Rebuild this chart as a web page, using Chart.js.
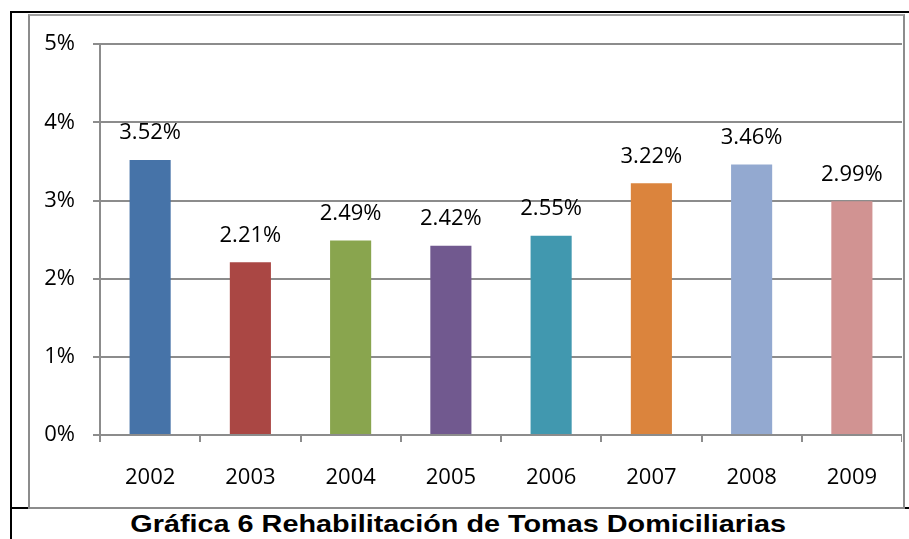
<!DOCTYPE html>
<html>
<head>
<meta charset="utf-8">
<script src="https://cdn.jsdelivr.net/npm/chart.js@4"></script>
<style>
  body { margin: 0; background: #fff; width: 909px; height: 539px; position: relative; overflow: hidden; }
  .line { position: absolute; background: #000; }
  #frame { position: absolute; left: 28px; top: 14px; width: 873px; height: 491px; border: 2px solid #8c8c8c; border-top-color: #a0a0a0; }
  #wrap { position: absolute; left: 30px; top: 13px; width: 872px; height: 493px; }
  #title { position: absolute; left: 12px; right: 0; top: 510px; text-align: center;
           font: bold 24px "Liberation Sans", Arial, sans-serif; color: #000;
           transform: scaleX(1.2); transform-origin: 460px 0; }
</style>
</head>
<body>
<div class="line" style="left:10px; top:11px; width:899px; height:2px;"></div>
<div class="line" style="left:10px; top:11px; width:2px; height:528px;"></div>
<div class="line" style="left:10px; top:507px; width:899px; height:2px;"></div>
<div id="frame"></div>
<div id="wrap"><canvas id="rehabChart"></canvas></div>
<div id="title">Gráfica 6 Rehabilitación de Tomas Domiciliarias</div>
<script>
const years = ['2002', '2003', '2004', '2005', '2006', '2007', '2008', '2009'];
const rates = [3.52, 2.21, 2.49, 2.42, 2.55, 3.22, 3.46, 2.99];
const barColors = ['#4673A8', '#AA4744', '#89A54E', '#71598F', '#4198AF', '#DB843D', '#93A9D0', '#D19392'];
const yTicks = [0, 1, 2, 3, 4, 5];

const labelFont = '22px "Open Sans", sans-serif';

// draw the value above each bar
const valueLabels = {
    id: 'valueLabels',
    afterDatasetsDraw(chart) {
        const c = chart.ctx;
        const meta = chart.getDatasetMeta(0);
        c.save();
        c.font = labelFont;
        c.fillStyle = '#000';
        c.textAlign = 'center';
        c.textBaseline = 'middle';
        meta.data.forEach(function(bar, i) {
            c.fillText(rates[i].toFixed(2) + '%', bar.x, bar.y - 27);
        });
        c.restore();
    }
};

const ctx = document.getElementById('rehabChart').getContext('2d');
new Chart(ctx, {
    type: 'bar',
    data: {
        labels: years,
        datasets: [{
            data: rates,
            backgroundColor: barColors,
            borderWidth: 0,
            barPercentage: 0.41,
            categoryPercentage: 1
        }]
    },
    options: {
        responsive: true,
        maintainAspectRatio: false,
        animation: false,
        layout: { padding: { top: 24, left: 0, right: 0, bottom: 0 } },
        plugins: { legend: { display: false }, tooltip: { enabled: false } },
        scales: {
            x: {
                grid: { drawOnChartArea: false, drawTicks: true, tickLength: 7, color: '#8c8c8c', lineWidth: 2, offset: true },
                border: { color: '#8c8c8c', width: 2 },
                ticks: { color: '#000', font: { family: 'Open Sans', size: 22 }, padding: 23 },
                afterFit: function(axis) { axis.height = 71; }
            },
            y: {
                min: 0,
                max: 5,
                afterBuildTicks: function(axis) { axis.ticks = yTicks.map(v => ({ value: v })); },
                grid: { color: '#8c8c8c', lineWidth: 2, tickLength: 7 },
                border: { color: '#8c8c8c', width: 2 },
                ticks: { color: '#000', font: { family: 'Open Sans', size: 22 }, padding: 18,
                         callback: function(v) { return v + '%'; } },
                afterFit: function(axis) { axis.width = 70; }
            }
        }
    },
    plugins: [valueLabels]
});
</script>
</body>
</html>
